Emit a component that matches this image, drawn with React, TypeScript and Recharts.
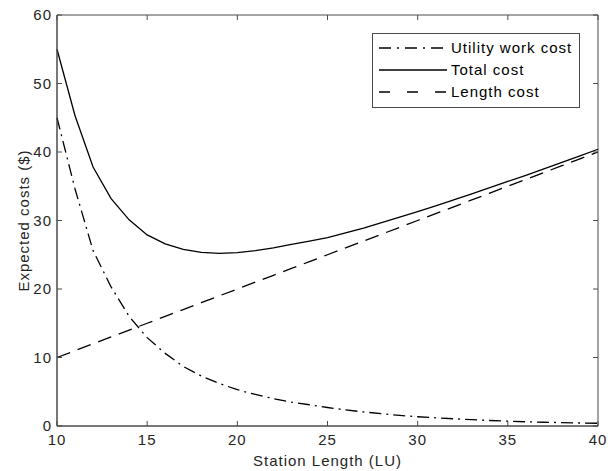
import { LineChart, Line, XAxis, YAxis, Legend, ReferenceArea } from "recharts"

const stationLength = [
  10, 11, 12, 13, 14, 15, 16, 17, 18, 19, 20, 21, 22, 23, 24, 25,
  26, 27, 28, 29, 30, 31, 32, 33, 34, 35, 36, 37, 38, 39, 40,
]
const utilityCost = [
  45.0, 34.6, 25.6, 20.3, 16.0, 12.9, 10.6, 8.7, 7.3, 6.2, 5.3, 4.6, 4.0, 3.5, 3.1, 2.7,
  2.35, 2.05, 1.8, 1.55, 1.35, 1.2, 1.05, 0.92, 0.8, 0.7, 0.62, 0.55, 0.49, 0.44, 0.4,
]
const totalCost = [
  55.0, 45.3, 37.8, 33.2, 30.1, 27.9, 26.6, 25.8, 25.35, 25.2, 25.3, 25.6, 26.0, 26.5, 27.0, 27.5,
  28.2, 28.9, 29.7, 30.5, 31.3, 32.15, 33.0, 33.9, 34.8, 35.7, 36.6, 37.55, 38.5, 39.44, 40.4,
]
const lengthCost = [
  10, 11, 12, 13, 14, 15, 16, 17, 18, 19, 20, 21, 22, 23, 24, 25,
  26, 27, 28, 29, 30, 31, 32, 33, 34, 35, 36, 37, 38, 39, 40,
]

const xTicks = [10, 15, 20, 25, 30, 35, 40]
const yTicks = [0, 10, 20, 30, 40, 50, 60]

const xLabel = "Station Length (LU)"
const yLabel = "Expected costs ($)"

const data = stationLength.map((x, i) => ({
  x,
  utility: utilityCost[i],
  total: totalCost[i],
  length: lengthCost[i],
}))

const W = 608
const H = 471
const margin = { top: 15, right: 10, bottom: 0, left: 0 }
const plotTop = margin.top
const plotRight = W - margin.right
const xTickMargin = 8.6
const yTickMargin = 5
const tickLen = 5

const font = "'Liberation Sans', Arial, Helvetica, sans-serif"
const axisColor = "#4a4a4a"
const textColor = "#262626"

// matlab style: ticks point inwards, mirrored on the top / right edge
function XTick({ x, y, payload }: any) {
  const bottom = y - xTickMargin
  return (
    <g>
      <line x1={x} x2={x} y1={bottom} y2={bottom - tickLen} stroke={axisColor} />
      <line x1={x} x2={x} y1={plotTop} y2={plotTop + tickLen} stroke={axisColor} />
      <text x={x} y={y} dy="0.71em" textAnchor="middle" fill={textColor} fontSize={15}>
        {payload.value}
      </text>
    </g>
  )
}

function YTick({ x, y, payload }: any) {
  const left = x + yTickMargin
  return (
    <g>
      <line x1={left} x2={left + tickLen} y1={y} y2={y} stroke={axisColor} />
      <line x1={plotRight} x2={plotRight - tickLen} y1={y} y2={y} stroke={axisColor} />
      <text x={x} y={y} dy="0.355em" textAnchor="end" fill={textColor} fontSize={15}>
        {payload.value}
      </text>
    </g>
  )
}

const legendItems = [
  { label: "Utility work cost", dash: "12 6 2 6" },
  { label: "Total cost", dash: undefined },
  { label: "Length cost", dash: "11 17" },
]

function CostLegend() {
  return (
    <div
      style={{
        width: 208,
        height: 75,
        boxSizing: "border-box",
        border: `1px solid ${axisColor}`,
        background: "#fff",
        paddingTop: 3,
      }}
    >
      {legendItems.map((item) => (
        <div key={item.label} style={{ display: "flex", alignItems: "center", height: 22 }}>
          <svg width={78} height={22} style={{ display: "block" }}>
            <line x1={6} x2={74} y1={11} y2={11} stroke="#000" strokeWidth={1.3} strokeDasharray={item.dash} />
          </svg>
          <span style={{ fontSize: 15, color: "#000", lineHeight: "22px" }}>{item.label}</span>
        </div>
      ))}
    </div>
  )
}

export default function App() {
  return (
    <div
      style={{
        position: "absolute",
        left: 0,
        top: 0,
        width: W,
        height: H,
        background: "#fff",
        fontFamily: font,
        letterSpacing: "1px",
      }}
    >
      <LineChart width={W} height={H} data={data} margin={margin}>
        <ReferenceArea x1={10} x2={40} y1={0} y2={60} fill="none" stroke={axisColor} strokeWidth={1} />
        <XAxis
          dataKey="x"
          type="number"
          domain={[10, 40]}
          ticks={xTicks}
          interval={0}
          height={45}
          tickSize={0}
          tickLine={false}
          tickMargin={xTickMargin}
          stroke={axisColor}
          tick={XTick}
          label={{ value: xLabel, position: "insideBottom", offset: 5, fill: textColor, fontSize: 15 }}
        />
        <YAxis
          type="number"
          domain={[0, 60]}
          ticks={yTicks}
          interval={0}
          width={57}
          tickSize={0}
          tickLine={false}
          tickMargin={yTickMargin}
          stroke={axisColor}
          tick={YTick}
          label={{
            content: ({ viewBox }: any) => {
              const cx = 23
              const cy = viewBox.y + viewBox.height / 2
              return (
                <text
                  x={cx}
                  y={cy}
                  textAnchor="middle"
                  dominantBaseline="central"
                  transform={`rotate(-90 ${cx} ${cy})`}
                  fill={textColor}
                  fontSize={15}
                >
                  {yLabel}
                </text>
              )
            },
          }}
        />
        <Legend
          layout="vertical"
          align="center"
          verticalAlign="middle"
          content={() => <CostLegend />}
          wrapperStyle={{ position: "absolute", left: 372, top: 33, width: 208, height: 75 }}
        />
        <Line
          type="linear"
          dataKey="utility"
          stroke="#000"
          strokeWidth={1.3}
          strokeDasharray="12 5 2 5"
          dot={false}
          isAnimationActive={false}
        />
        <Line
          type="linear"
          dataKey="total"
          stroke="#000"
          strokeWidth={1.3}
          dot={false}
          isAnimationActive={false}
        />
        <Line
          type="linear"
          dataKey="length"
          stroke="#000"
          strokeWidth={1.3}
          strokeDasharray="14 8"
          dot={false}
          isAnimationActive={false}
        />
      </LineChart>
    </div>
  )
}
